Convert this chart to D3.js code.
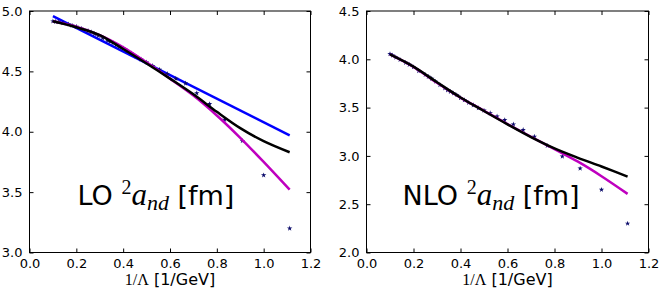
<!DOCTYPE html>
<html>
<head>
<meta charset="utf-8">
<script src="https://cdn.jsdelivr.net/npm/d3@7"></script>
<style>
  body { margin: 0; background: #fff; }
  svg { display: block; }
</style>
</head>
<body>
<svg id="chart" width="664" height="295"></svg>
<script>
// cutoff values (GeV); stars are drawn at 1/Lambda
var cutoffs = [0.9, 1.0, 1.1, 1.2, 1.3, 1.4, 1.5, 1.6, 1.7, 1.8, 1.9, 2.0, 2.1, 2.2, 2.3, 2.4, 2.5,
  2.6, 2.7, 2.8, 2.9, 3.0, 3.2, 3.4, 3.6, 3.8, 4.0, 4.5, 5, 5.5, 6, 7, 8, 9, 10];

var loStars = [3.20, 3.64, 3.925, 4.10, 4.23, 4.32, 4.40, 4.44, 4.48, 4.515, 4.545, 4.575, 4.60, 4.625,
  4.65, 4.67, 4.69, 4.705, 4.72, 4.735, 4.745, 4.755, 4.775, 4.795, 4.81, 4.825, 4.835, 4.855, 4.87,
  4.88, 4.89, 4.90, 4.91, 4.912, 4.915];
var nloStars = [2.30, 2.65, 2.87, 2.995, 3.105, 3.20, 3.27, 3.327, 3.372, 3.41, 3.442, 3.47, 3.495, 3.525,
  3.55, 3.578, 3.60, 3.63, 3.648, 3.665, 3.68, 3.70, 3.735, 3.77, 3.80, 3.82, 3.84, 3.88, 3.92,
  3.945, 3.965, 3.995, 4.02, 4.04, 4.055];

// fit curves, sampled in 1/Lambda
var curveX = [0.1, 0.2, 0.3, 0.4, 0.5, 0.6, 0.7, 0.8, 0.9, 1.0, 1.111];
var loBlack   = [4.915, 4.865, 4.80, 4.685, 4.565, 4.44, 4.31, 4.165, 4.03, 3.922, 3.83];
var loMagenta = [4.915, 4.87, 4.80, 4.70, 4.575, 4.44, 4.30, 4.135, 3.95, 3.75, 3.52];
var loBlueX = [0.1, 1.111];
var loBlue  = [4.958, 3.97];
var nloBlack   = [4.05, 3.924, 3.762, 3.605, 3.465, 3.327, 3.195, 3.078, 2.98, 2.89, 2.786];
var nloMagenta = [4.05, 3.922, 3.757, 3.603, 3.467, 3.33, 3.198, 3.07, 2.94, 2.79, 2.607];

var xTicks = [0.0, 0.2, 0.4, 0.6, 0.8, 1.0, 1.2];

var panels = [
  {left: 29.5, right: 310.5, yDomain: [3.0, 5.0], yTicks: [3.0, 3.5, 4.0, 4.5, 5.0],
   stars: loStars, black: loBlack, magenta: loMagenta, blue: loBlue,
   label: "LO", labelX: 77.5},
  {left: 366.5, right: 648.5, yDomain: [2.0, 4.5], yTicks: [2.0, 2.5, 3.0, 3.5, 4.0, 4.5],
   stars: nloStars, black: nloBlack, magenta: nloMagenta, blue: null,
   label: "NLO", labelX: 402.5}
];

var plotTop = 11, plotBottom = 252.5;
var svg = d3.select("#chart");

panels.forEach(function(p) {
  var x = d3.scaleLinear().domain([0, 1.2]).range([p.left, p.right]);
  var y = d3.scaleLinear().domain(p.yDomain).range([plotBottom, plotTop]);
  var g = svg.append("g");

  var line = d3.line()
    .x(function(d) { return x(d[0]); })
    .y(function(d) { return y(d[1]); })
    .curve(d3.curveCatmullRom.alpha(0.5));

  var clip = "clip" + p.label;
  g.append("clipPath").attr("id", clip).append("rect")
    .attr("x", p.left).attr("y", plotTop)
    .attr("width", p.right - p.left).attr("height", plotBottom - plotTop);
  var plot = g.append("g").attr("clip-path", "url(#" + clip + ")");

  if (p.blue) {
    plot.append("path")
      .datum(loBlueX.map(function(v, i) { return [v, p.blue[i]]; }))
      .attr("d", line).attr("fill", "none")
      .attr("stroke", "#0000ff").attr("stroke-width", 2.5);
  }

  // stars
  var star = d3.symbol().type(d3.symbolStar).size(9);
  plot.selectAll(".star").data(cutoffs)
    .enter().append("path")
    .attr("class", "star")
    .attr("d", star)
    .attr("transform", function(d, i) {
      return "translate(" + x(1 / d) + "," + y(p.stars[i]) + ")";
    })
    .attr("fill", "#0a0a6a");

  plot.append("path")
    .datum(curveX.map(function(v, i) { return [v, p.magenta[i]]; }))
    .attr("d", line).attr("fill", "none")
    .attr("stroke", "#bf00bf").attr("stroke-width", 2.5);

  plot.append("path")
    .datum(curveX.map(function(v, i) { return [v, p.black[i]]; }))
    .attr("d", line).attr("fill", "none")
    .attr("stroke", "#000").attr("stroke-width", 2.5);

  // axes, ticks inward on all sides
  var fmt = d3.format(".1f");
  var ax = [
    d3.axisBottom(x).tickValues(xTicks).tickFormat(fmt).tickSizeInner(-4).tickSizeOuter(0).tickPadding(6),
    d3.axisTop(x).tickValues(xTicks).tickFormat("").tickSizeInner(-4).tickSizeOuter(0),
    d3.axisLeft(y).tickValues(p.yTicks).tickFormat(fmt).tickSizeInner(-4).tickSizeOuter(0).tickPadding(7),
    d3.axisRight(y).tickValues(p.yTicks).tickFormat("").tickSizeInner(-4).tickSizeOuter(0)
  ];
  var pos = ["translate(0," + plotBottom + ")", "translate(0," + plotTop + ")",
             "translate(" + p.left + ",0)", "translate(" + p.right + ",0)"];
  ax.forEach(function(a, i) {
    var ag = g.append("g").attr("transform", pos[i]).call(a)
      .attr("font-family", "DejaVu Sans, sans-serif").attr("font-size", 13);
    ag.select(".domain").remove();
    ag.selectAll(".tick line").attr("stroke", "#000");
    ag.selectAll(".tick text").attr("fill", "#000");
  });

  g.append("rect")
    .attr("x", p.left).attr("y", plotTop)
    .attr("width", p.right - p.left).attr("height", plotBottom - plotTop)
    .attr("fill", "none").attr("stroke", "#000").attr("stroke-width", 1);

  // x axis title
  var xt = g.append("text")
    .attr("x", (p.left + p.right) / 2).attr("y", 285)
    .attr("text-anchor", "middle")
    .style("font-size", "16px");
  xt.append("tspan").style("font-family", "Liberation Serif, serif").text("1/\u039B");
  xt.append("tspan").style("font-family", "DejaVu Sans, sans-serif").text(" [1/GeV]");

  // big in-plot label
  var lt = g.append("text")
    .attr("x", p.labelX).attr("y", 204.5)
    .style("font-size", "27px").attr("fill", "#000");
  lt.append("tspan").style("font-family", "DejaVu Sans, sans-serif").text(p.label + " ");
  lt.append("tspan").attr("dy", -11).style("font-family", "Liberation Serif, serif")
    .style("font-size", "20px").text("2");
  lt.append("tspan").attr("dy", 11).style("font-family", "Liberation Serif, serif")
    .style("font-style", "italic").style("font-size", "31px").text("a");
  lt.append("tspan").attr("dy", 5).style("font-family", "Liberation Serif, serif")
    .style("font-style", "italic").style("font-size", "22px").text("nd");
  lt.append("tspan").attr("dy", -5).style("font-family", "DejaVu Sans, sans-serif").text(" [fm]");
});
</script>
</body>
</html>
